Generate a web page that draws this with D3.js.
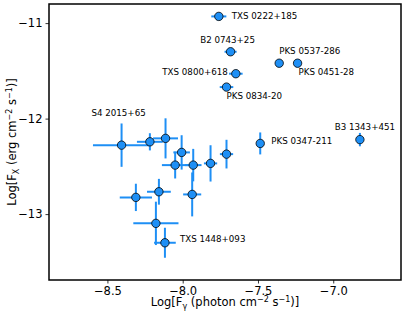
<!DOCTYPE html>
<html>
<head>
<meta charset="utf-8">
<script src="https://cdn.jsdelivr.net/npm/d3@7"></script>
<style>
  html, body { margin: 0; padding: 0; background: #fff; overflow: hidden; }
  svg { display: block; }
  text { font-family: "DejaVu Sans", sans-serif; }
</style>
</head>
<body>
<div id="chart"></div>
<script>
// source names ("" = unlabelled)
const names = [
  "TXS 0222+185", "B2 0743+25", "PKS 0537-286", "PKS 0451-28", "TXS 0800+618",
  "PKS 0834-20", "PKS 0347-211", "B3 1343+451", "S4 2015+65", "", "", "", "", "",
  "", "", "", "", "", "", "TXS 1448+093"
];
// log gamma-ray flux
const logFg = [
  -7.760, -7.682, -7.359, -7.237, -7.647, -7.709, -7.485, -6.823, -8.406, -8.218,
  -8.114, -8.007, -8.050, -7.930, -7.815, -7.709, -8.158, -8.311, -7.937, -8.178, -8.118
];
const logFgErr = [
  0.050, 0.040, 0.000, 0.000, 0.045, 0.045, 0.010, 0.010, 0.190, 0.086,
  0.083, 0.055, 0.088, 0.055, 0.044, 0.044, 0.079, 0.107, 0.060, 0.150, 0.072
];
// log X-ray flux
const logFx = [
  -10.93, -11.30, -11.42, -11.42, -11.53, -11.67, -12.26, -12.22, -12.278, -12.243,
  -12.207, -12.354, -12.487, -12.487, -12.469, -12.372, -12.766, -12.825, -12.794, -13.097, -13.30
];
const logFxErr = [
  0.02, 0.02, 0.00, 0.00, 0.03, 0.02, 0.115, 0.07, 0.227, 0.09,
  0.21, 0.18, 0.14, 0.17, 0.19, 0.15, 0.135, 0.143, 0.23, 0.227, 0.157
];
const xTicks = [-8.5, -8.0, -7.5, -7.0];
const yTicks = [-11, -12, -13];

// where each name sits relative to its marker
const labelPlace = {
  "TXS 0222+185": {dx: 13, dy: 0, anchor: "start"},
  "B2 0743+25": {dx: -3, dy: -12, anchor: "middle"},
  "PKS 0537-286": {dx: 0, dy: -12, anchor: "start"},
  "PKS 0451-28": {dx: 1, dy: 9, anchor: "start"},
  "TXS 0800+618": {dx: -8, dy: -2, anchor: "end"},
  "PKS 0834-20": {dx: 0, dy: 9, anchor: "start"},
  "PKS 0347-211": {dx: 11, dy: -2, anchor: "start"},
  "B3 1343+451": {dx: 5, dy: -13, anchor: "middle"},
  "S4 2015+65": {dx: -3, dy: -32, anchor: "middle"},
  "TXS 1448+093": {dx: 15, dy: -3.5, anchor: "start"}
};

const data = names.map((n, i) => ({
  name: n, x: logFg[i], xe: logFgErr[i], y: logFx[i], ye: logFxErr[i]
}));

const width = 407, height = 318;
const margin = {top: 4, right: 6, bottom: 38, left: 49};
const innerWidth = width - margin.left - margin.right;
const innerHeight = height - margin.top - margin.bottom;
const blue = "#1e8ff5";

const svg = d3.select("#chart").append("svg")
  .attr("width", width).attr("height", height);

const g = svg.append("g")
  .attr("transform", `translate(${margin.left},${margin.top})`);

const xScale = d3.scaleLinear().domain([-8.888, -6.55]).range([0, innerWidth]);
const yScale = d3.scaleLinear().domain([-10.80, -13.69]).range([0, innerHeight]);

// axes
const xAxis = g.append("g")
  .attr("transform", `translate(0,${innerHeight})`)
  .call(d3.axisBottom(xScale).tickValues(xTicks).tickSize(3.5).tickPadding(3)
    .tickFormat(d => d3.format(".1f")(d).replace("-", "\u2212")));
const yAxis = g.append("g")
  .call(d3.axisLeft(yScale).tickValues(yTicks).tickSize(3.5).tickPadding(3)
    .tickFormat(d => String(d).replace("-", "\u2212")));
[xAxis, yAxis].forEach(a => {
  a.select(".domain").remove();
  a.selectAll("text").attr("font-size", 11.5).attr("fill", "#000")
    .attr("font-family", "DejaVu Sans, sans-serif");
  a.selectAll("line").attr("stroke", "#000").attr("stroke-width", 0.8);
});

// error bars
const eb = g.append("g").attr("stroke", blue).attr("stroke-width", 2);
eb.selectAll(".xe").data(data.filter(d => d.xe > 0)).join("line")
  .attr("class", "xe")
  .attr("x1", d => xScale(d.x - d.xe)).attr("x2", d => xScale(d.x + d.xe))
  .attr("y1", d => yScale(d.y)).attr("y2", d => yScale(d.y));
eb.selectAll(".ye").data(data.filter(d => d.ye > 0)).join("line")
  .attr("class", "ye")
  .attr("x1", d => xScale(d.x)).attr("x2", d => xScale(d.x))
  .attr("y1", d => yScale(d.y - d.ye)).attr("y2", d => yScale(d.y + d.ye));

// markers
g.selectAll("circle").data(data).join("circle")
  .attr("cx", d => xScale(d.x)).attr("cy", d => yScale(d.y))
  .attr("r", 4.2).attr("fill", blue)
  .attr("stroke", "#000").attr("stroke-width", 0.8);

// names
g.selectAll(".lbl").data(data.filter(d => d.name)).join("text")
  .attr("class", "lbl")
  .attr("x", d => xScale(d.x) + labelPlace[d.name].dx)
  .attr("y", d => yScale(d.y) + labelPlace[d.name].dy)
  .attr("dy", "0.35em")
  .attr("text-anchor", d => labelPlace[d.name].anchor)
  .attr("font-size", 8.7)
  .text(d => d.name);

// frame
g.append("rect").attr("width", innerWidth).attr("height", innerHeight)
  .attr("fill", "none").attr("stroke", "#000").attr("stroke-width", 1.5);

// axis titles
const xt = svg.append("text")
  .attr("x", margin.left + innerWidth / 2).attr("y", 306)
  .attr("text-anchor", "middle").attr("font-size", 11.5);
xt.append("tspan").text("Log[F");
xt.append("tspan").attr("font-size", 8).attr("dy", 2.5).text("\u03b3");
xt.append("tspan").attr("dy", -2.5).text(" (photon cm");
xt.append("tspan").attr("font-size", 8).attr("dy", -4.5).text("\u22122");
xt.append("tspan").attr("dy", 4.5).text(" s");
xt.append("tspan").attr("font-size", 8).attr("dy", -4.5).text("\u22121");
xt.append("tspan").attr("dy", 4.5).text(")]");

const yt = svg.append("text")
  .attr("transform", `translate(16,${margin.top + innerHeight / 2}) rotate(-90)`)
  .attr("text-anchor", "middle").attr("font-size", 11.5);
yt.append("tspan").text("Log[F");
yt.append("tspan").attr("font-size", 8).attr("dy", 2.5).text("X");
yt.append("tspan").attr("dy", -2.5).text(" (erg cm");
yt.append("tspan").attr("font-size", 8).attr("dy", -4.5).text("\u22122");
yt.append("tspan").attr("dy", 4.5).text(" s");
yt.append("tspan").attr("font-size", 8).attr("dy", -4.5).text("\u22121");
yt.append("tspan").attr("dy", 4.5).text(")]");
</script>
</body>
</html>
